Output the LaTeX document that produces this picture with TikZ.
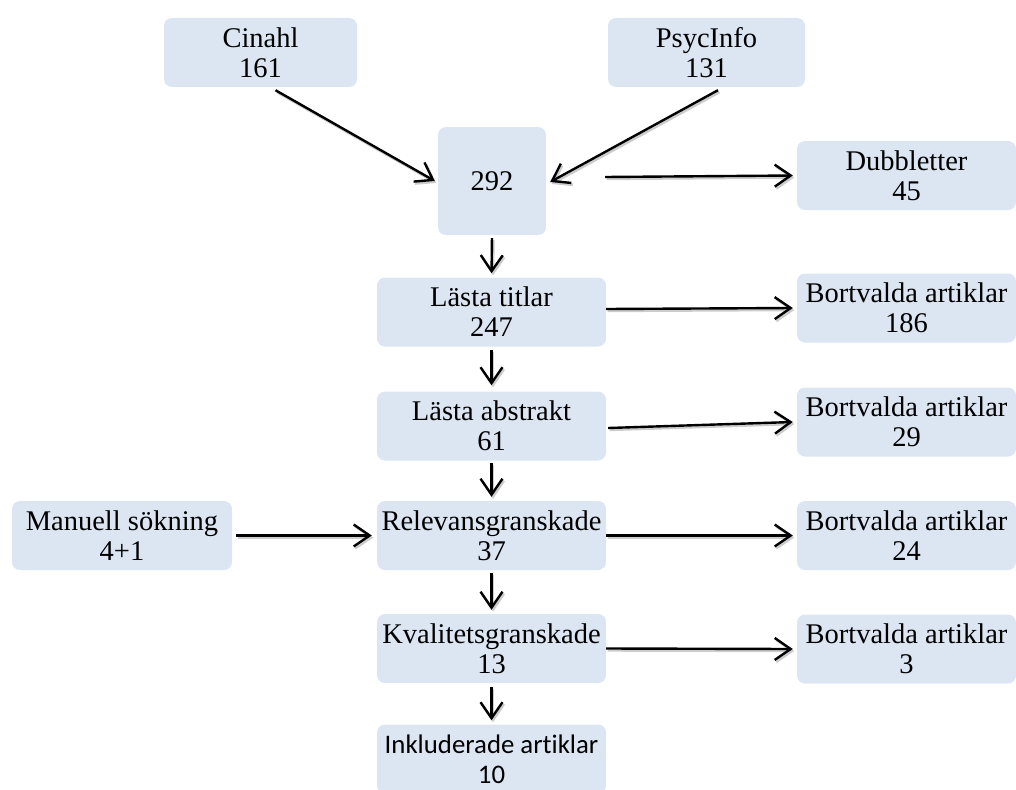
\documentclass[tikz,border=0pt]{standalone}
\usepackage{fontspec}
\setmainfont{Liberation Serif}
\newfontfamily\inklfont[Ligatures=NoCommon]{Carlito}
\usetikzlibrary{calc, arrows.meta, positioning}
\definecolor{boxblue}{RGB}{220,230,242}

\tikzset{
    box/.style={fill=boxblue, rounded corners=8pt, inner sep=0pt, align=center,
        minimum height=69pt, font=\fontsize{28.5}{30}\selectfont},
    arr/.style={line width=2.4pt, -{Straight Barb[length=16pt,width=22pt]},
        preaction={draw=black!20, line width=2.4pt, transform canvas={shift={(1.5pt,-2pt)}}}}
}

\begin{document}
\begin{tikzpicture}[x=1pt, y=-1pt]
    \useasboundingbox (0,0) rectangle (1016,789);

    % Databases at the top
    \node[box, minimum width=193pt] (cin) at (260.5,52.5) {Cinahl\\161};
    \node[box, minimum width=197pt] (psy) at (706.5,52.5) {PsycInfo\\131};
    \node[box, minimum width=108pt, minimum height=108pt] (tot) at (492,181) {292};

    % Main column
    \node[box, minimum width=229pt] (tit) at (491.5,312) {Lästa titlar\\247};
    \node[box, minimum width=229pt] (abs) at (491.5,426) {Lästa abstrakt\\61};
    \node[box, minimum width=229pt] (rel) at (491.5,535.5) {Relevansgranskade\\37};
    \node[box, minimum width=229pt] (kva) at (491.5,648.5) {Kvalitetsgranskade\\13};
    \node[box, minimum width=229pt, font=\inklfont\fontsize{26.8}{30}\selectfont] (ink) at (491.5,759) {Inkluderade artiklar\\10};

    % Manual search on the left
    \node[box, minimum width=220pt] (man) at (122,535.5) {Manuell sökning\\4+1};

    % Removed articles on the right
    \node[box, minimum width=219pt] (dub) at (906.5,175.5) {Dubbletter\\45};
    \foreach \y/\n/\name in {308/186/b1, 422/29/b2, 535.5/24/b3, 649/3/b4}{
        \node[box, minimum width=219pt] (\name) at (906.5,\y) {Bortvalda artiklar\\\n};
    }

    % Arrows
    \draw[arr] ([xshift=15pt,yshift=-3pt]cin.south) -- ([xshift=-3pt]tot.west);
    \draw[arr] ([xshift=11.5pt,yshift=-3pt]psy.south) -- ([xshift=4pt,yshift=-1pt]tot.east);
    \draw[arr] ([xshift=59pt,yshift=4pt]tot.east) -- ([xshift=-4pt]dub.west);
    \draw[arr, shorten <=3pt, shorten >=4pt] (tot.south) -- (tit.north);
    \draw[arr, shorten <=3pt, shorten >=6pt] (tit.south) -- (abs.north);
    \draw[arr, shorten <=2pt, shorten >=4pt] (abs.south) -- (rel.north);
    \draw[arr, shorten <=3pt, shorten >=4pt] (rel.south) -- (kva.north);
    \draw[arr, shorten <=4pt, shorten >=4pt] (kva.south) -- (ink.north);
    \draw[arr] ([yshift=3pt]tit.east) -- ([xshift=-4pt]b1.west);
    \draw[arr] ([xshift=2pt,yshift=-2pt]abs.east) -- ([xshift=-4pt]b2.west);
    \draw[arr] (rel.east) -- ([xshift=-4pt]b3.west);
    \draw[arr] (kva.east) -- ([xshift=-4pt]b4.west);
    \draw[arr, shorten <=4pt, shorten >=5pt] (man.east) -- (rel.west);
\end{tikzpicture}
\end{document}
